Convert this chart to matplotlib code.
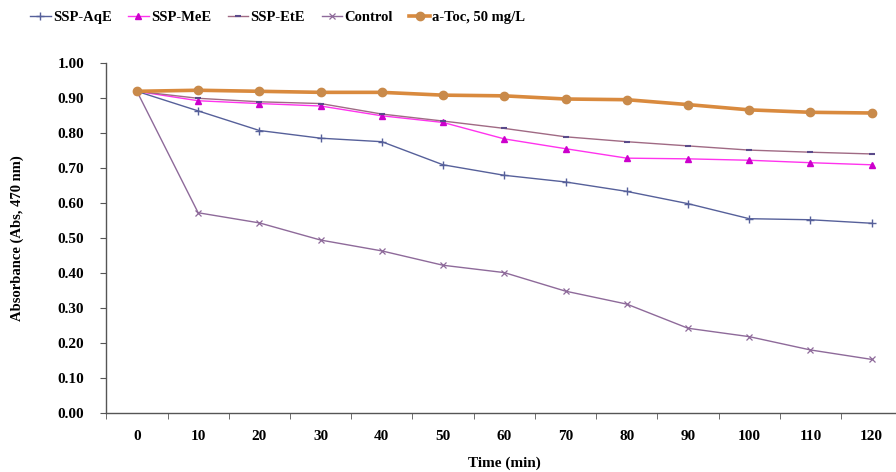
import numpy as np
import matplotlib
matplotlib.use("Agg")
import matplotlib.pyplot as plt

# data
times = ["0", "10", "20", "30", "40", "50", "60", "70", "80", "90", "100", "110", "120"]
ssp_aqe = [0.92, 0.864, 0.808, 0.786, 0.776, 0.71, 0.68, 0.661, 0.634, 0.599, 0.556, 0.553, 0.543]
ssp_mee = [0.92, 0.893, 0.885, 0.878, 0.85, 0.831, 0.784, 0.756, 0.729, 0.727, 0.723, 0.716, 0.71]
ssp_ete = [0.92, 0.90, 0.89, 0.885, 0.855, 0.835, 0.814, 0.79, 0.776, 0.764, 0.752, 0.746, 0.741]
control = [0.92, 0.573, 0.544, 0.495, 0.464, 0.423, 0.402, 0.349, 0.312, 0.243, 0.219, 0.181, 0.154]
a_toc = [0.92, 0.923, 0.92, 0.917, 0.917, 0.909, 0.907, 0.898, 0.896, 0.882, 0.867, 0.86, 0.858]

plt.rcParams['font.family'] = ['Liberation Serif', 'DejaVu Serif']
plt.rcParams['font.weight'] = 'bold'

fig = plt.figure(figsize=(8.96, 4.72), dpi=100)
ax = fig.add_axes([106.3 / 896, 58.7 / 472, 796.0 / 896, 350.0 / 472])

x = np.arange(len(times))
ax.plot(x, ssp_aqe, color="#56609a", lw=1.0, marker="+", ms=6, mew=1.0, label="SSP-AqE")
ax.plot(x, ssp_mee, color="#ff33ee", lw=1.0, marker="^", ms=4.5, mfc="#cc00cc", mec="#cc00cc", label="SSP-MeE")
ax.plot(x, ssp_ete, color="#a06a84", lw=1.0, marker="_", ms=5, mew=1.5, mec="#5a4a8a", label="SSP-EtE")
ax.plot(x, control, color="#8e6a9a", lw=1.0, marker="x", ms=4.5, mew=0.9, label="Control")
ax.plot(x, a_toc, color="#d98a3e", lw=2.6, marker="o", ms=6, mfc="#c98a4a", mec="#c98a4a", label="a-Toc, 50 mg/L")

ax.set_xlim(-0.5, len(times) - 0.5)
ax.set_ylim(0, 1.0)
ax.set_xticks(x)
ax.set_xticklabels(times)
ax.set_xticks(np.arange(-0.5, len(times), 1.0), minor=True)
ax.tick_params(axis="x", which="major", length=0, pad=12, labelsize=11)
ax.tick_params(axis="x", which="minor", length=4, direction="out", color="#555555")
ax.set_yticks(np.arange(0, 1.01, 0.1))
ax.set_yticklabels([f"{v:.2f}" for v in np.arange(0, 1.01, 0.1)])
ax.tick_params(axis="y", length=4, direction="out", color="#555555", labelsize=11, pad=12)

for s in ["top", "right"]:
    ax.spines[s].set_visible(False)
for s in ["left", "bottom"]:
    ax.spines[s].set_color("#555555")
    ax.spines[s].set_linewidth(1.0)

ax.set_xlabel("Time (min)", fontsize=11, fontweight="bold", labelpad=10)
ax.set_ylabel("Absorbance (Abs, 470 nm)", fontsize=10.5, fontweight="bold", labelpad=24)

fig.legend(loc="center left", bbox_to_anchor=(17 / 896, 1 - 17 / 472), ncol=5, frameon=False,
           fontsize=10.5, handlelength=1.4, handletextpad=0.15, columnspacing=1.15)

fig.savefig("out.png", dpi=100)
